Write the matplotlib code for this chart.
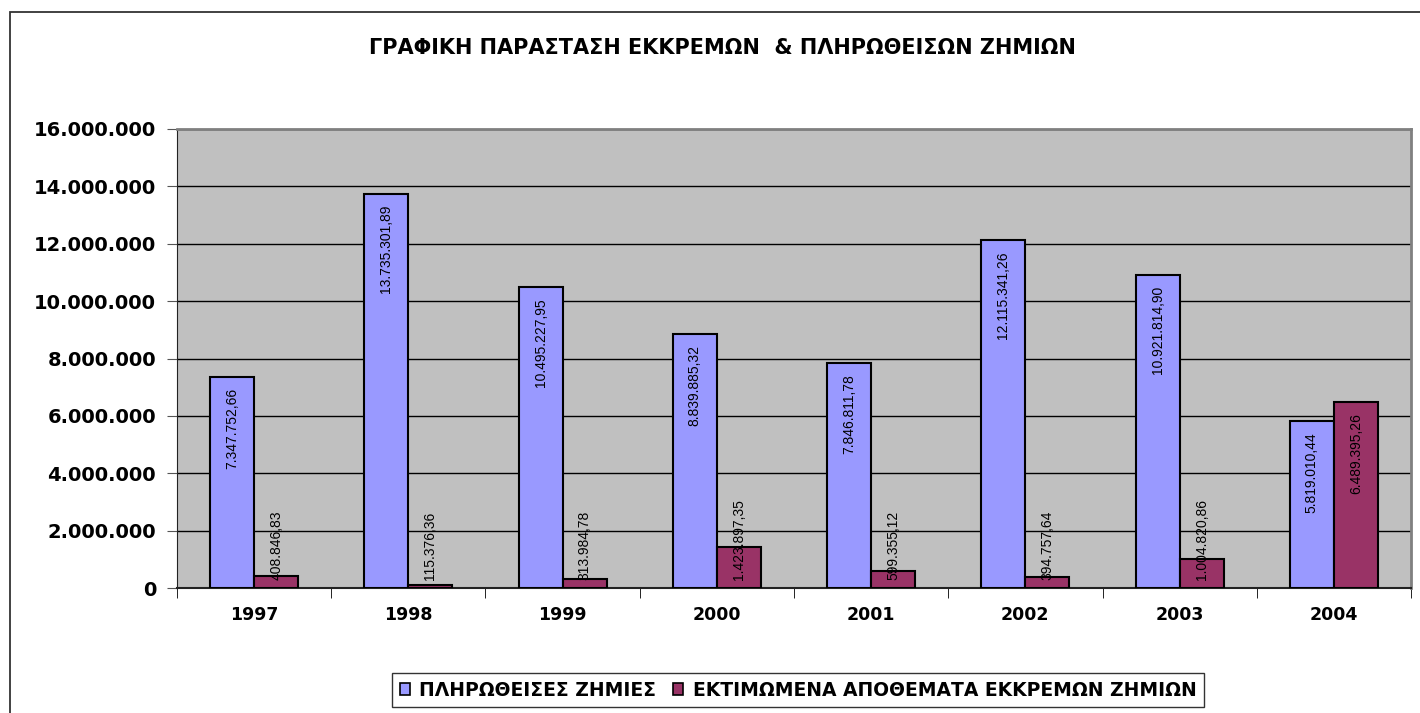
import matplotlib
matplotlib.use("Agg")
import matplotlib.pyplot as plt
from matplotlib.patches import Rectangle
import numpy as np

years = ["1997", "1998", "1999", "2000", "2001", "2002", "2003", "2004"]
paid = [7347752.66, 13735301.89, 10495227.95, 8839885.32, 7846811.78,
        12115341.26, 10921814.90, 5819010.44]
reserves = [408846.83, 115376.36, 313984.78, 1423897.35, 599355.12,
            394757.64, 1004820.86, 6489395.26]
series_names = ["ΠΛΗΡΩΘΕΙΣΕΣ ΖΗΜΙΕΣ", "ΕΚΤΙΜΩΜΕΝΑ ΑΠΟΘΕΜΑΤΑ ΕΚΚΡΕΜΩΝ ΖΗΜΙΩΝ"]
title = "ΓΡΑΦΙΚΗ ΠΑΡΑΣΤΑΣΗ ΕΚΚΡΕΜΩΝ  & ΠΛΗΡΩΘΕΙΣΩΝ ΖΗΜΙΩΝ"
yticks = [0, 2000000, 4000000, 6000000, 8000000, 10000000, 12000000, 14000000, 16000000]

plt.rcParams['font.family'] = ['Liberation Sans', 'DejaVu Sans']
BOLD = ['DejaVu Sans']

W, H = 1420, 713
fig = plt.figure(figsize=(W / 100, H / 100), dpi=100)
fig.patch.set_facecolor("white")

# outer chart border (right/bottom edges fall outside the image)
fig.add_artist(Rectangle((9.5 / W, -0.01), 1.02, (713 - 12) / H + 0.01,
                         transform=fig.transFigure, fill=False, edgecolor="#333333", lw=1.3))

ax = fig.add_axes([177 / W, 1 - 588 / H, (1411 - 177) / W, (588 - 129) / H])
ax.set_facecolor("#C0C0C0")

x = np.arange(len(years))
bw = 1 / 3.5
b1 = ax.bar(x - bw / 2, paid, bw, color="#9999FF", edgecolor="black", lw=1.5, zorder=3,
            label=series_names[0])
b2 = ax.bar(x + bw / 2, reserves, bw, color="#993366", edgecolor="black", lw=1.5, zorder=3,
            label=series_names[1])

ax.set_xlim(-0.5, len(years) - 0.5)
ax.set_ylim(0, 16000000)
ax.set_yticks(yticks)
ax.set_yticklabels([f"{v:,.0f}".replace(",", ".") for v in yticks],
                   fontsize=14, fontweight="bold", family=BOLD)
ax.yaxis.grid(True, color="black", lw=1, zorder=1)
ax.set_axisbelow(True)

ax.set_xticks(x)
ax.set_xticklabels(years, fontsize=12.5, fontweight="bold", family=BOLD)
ax.tick_params(axis="x", length=0, pad=13)
ax.set_xticks(np.arange(len(years) + 1) - 0.5, minor=True)
ax.tick_params(axis="x", which="minor", length=7, direction="out", color="black")
ax.tick_params(axis="y", length=7, direction="out", pad=8, color="#555555")

for s in ["top", "right"]:
    ax.spines[s].set_color("#808080")
    ax.spines[s].set_linewidth(2)
ax.spines["left"].set_color("#222222")
ax.spines["bottom"].set_color("#222222")
ax.spines["bottom"].set_linewidth(1.5)

def fmt(v):
    s = f"{v:,.2f}"
    return s.replace(",", "X").replace(".", ",").replace("X", ".")

fig.canvas.draw()
renderer = fig.canvas.get_renderer()
px_per_unit = ax.transData.transform((0, 1))[1] - ax.transData.transform((0, 0))[1]

for bars, vals in ((b1, paid), (b2, reserves)):
    for bar, v in zip(bars, vals):
        cx = bar.get_x() + bar.get_width() / 2
        t = ax.text(cx, 0, fmt(v), rotation=90, ha="center", va="bottom",
                    fontsize=10, zorder=5)
        ext = t.get_window_extent(renderer)
        hpx = ext.height
        barpx = v * px_per_unit
        if hpx + 22 <= barpx:
            t.set_y(v - 11 / px_per_unit)
            t.set_va("top")
        else:
            t.set_y(8 / px_per_unit)
            t.set_va("bottom")

fig.text(722 / W, 1 - 48 / H, title, ha="center", va="center",
         fontsize=15, fontweight="bold", family=BOLD)

leg = fig.legend(handles=[b1, b2], labels=series_names, loc="center",
                 bbox_to_anchor=(798 / W, 1 - 690 / H), ncol=2,
                 prop={"size": 13.5, "weight": "bold", "family": BOLD}, frameon=True,
                 fancybox=False, edgecolor="black", handlelength=0.55, handleheight=0.55,
                 handletextpad=0.5, columnspacing=0.9, borderpad=0.4, borderaxespad=0)
leg.get_frame().set_linewidth(1.0)
for h in leg.legend_handles:
    h.set_linewidth(1.2)

fig.savefig("out.png", dpi=100)
